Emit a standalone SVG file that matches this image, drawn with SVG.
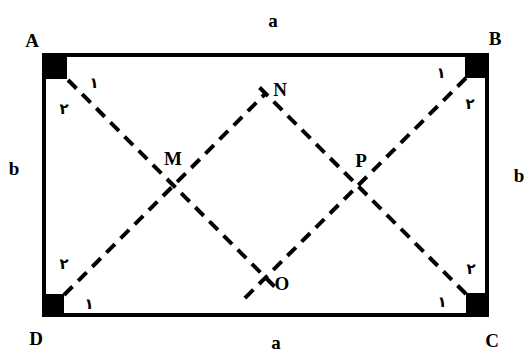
<svg xmlns="http://www.w3.org/2000/svg" width="528" height="356" viewBox="0 0 528 356">
<style>
.lbl{font-family:"Liberation Serif","Times New Roman",serif;font-weight:bold;font-size:19px;fill:#000;text-anchor:middle}
.dig{font-family:"DejaVu Sans",sans-serif;font-size:15px;font-weight:bold;fill:#000;text-anchor:middle}
.dash{stroke:#000;stroke-width:4;stroke-dasharray:12 8;fill:none}
</style>
<rect width="528" height="356" fill="#fff"/>
<g id="rectangle">
<rect x="44" y="55" width="443" height="260" fill="none" stroke="#000" stroke-width="4"/>
</g>
<g id="corner-A"><rect x="44" y="55" width="23" height="24" fill="#000"/><text class="lbl" x="32" y="47">A</text><text class="dig" x="94" y="88">۱</text><text class="dig" x="64" y="114">۲</text></g>
<g id="corner-B"><rect x="465" y="55" width="22" height="23" fill="#000"/><text class="lbl" x="495" y="45">B</text><text class="dig" x="441" y="78">۱</text><text class="dig" x="470" y="109">۲</text></g>
<g id="corner-C"><rect x="466" y="293" width="21" height="22" fill="#000"/><text class="lbl" x="492" y="347">C</text><text class="dig" x="442" y="307">۱</text><text class="dig" x="471" y="274">۲</text></g>
<g id="corner-D"><rect x="44" y="294" width="20" height="21" fill="#000"/><text class="lbl" x="36" y="345">D</text><text class="dig" x="89" y="309">۱</text><text class="dig" x="64" y="269">۲</text></g>
<g id="connectors">
<line class="dash" x1="68" y1="80" x2="276" y2="288"/>
<line class="dash" x1="64" y1="295" x2="265" y2="94"/>
<line class="dash" x1="466" y1="78" x2="243" y2="300"/>
<line class="dash" x1="466" y1="294" x2="256" y2="84"/>
</g>
<g id="side-labels">
<text class="lbl" x="273" y="27">a</text>
<text class="lbl" x="276" y="349">a</text>
<text class="lbl" x="14" y="175">b</text>
<text class="lbl" x="519" y="182">b</text>
</g>
<g id="point-M"><text class="lbl" x="173" y="165">M</text></g>
<g id="point-N"><text class="lbl" x="280" y="96">N</text></g>
<g id="point-P"><text class="lbl" x="361" y="167">P</text></g>
<g id="point-O"><text class="lbl" x="282" y="290">O</text></g>
</svg>
